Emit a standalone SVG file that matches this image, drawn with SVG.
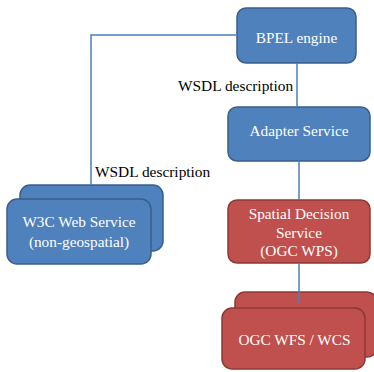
<svg xmlns="http://www.w3.org/2000/svg" width="374" height="372" viewBox="0 0 374 372">
<style>
.blue{fill:#4F81BD;stroke:#3A5F8B;stroke-width:1.5}
.red{fill:#C0504D;stroke:#8C3836;stroke-width:1.5}
text{font-family:'Liberation Serif','Times New Roman',serif}
.nt{font-size:15.3px;fill:#FFFFFF;text-anchor:middle}
.lbl{font-size:15.4px;fill:#000000}
.conn{fill:none;stroke:#4A7EBB;stroke-width:1.5}
</style>
<rect width="374" height="372" fill="#FFFFFF"/>
<g id="bpel">
<rect class="blue" x="237" y="8" width="119" height="55" rx="9"/>
<text class="nt" x="296.5" y="43">BPEL engine</text>
</g>
<g id="adapter">
<rect class="blue" x="228" y="107" width="142" height="54" rx="9"/>
<text class="nt" x="299" y="136">Adapter Service</text>
</g>
<g id="w3c">
<rect class="blue" x="20" y="185" width="143" height="66" rx="10"/>
<rect class="blue" x="7" y="199" width="144" height="65" rx="10"/>
<text class="nt" x="79" y="227">W3C Web Service</text>
<text class="nt" x="79" y="247">(non-geospatial)</text>
</g>
<g id="wps">
<rect class="red" x="228" y="200" width="142" height="63" rx="9"/>
<text class="nt" x="299" y="219">Spatial Decision</text>
<text class="nt" x="299" y="238">Service</text>
<text class="nt" x="299" y="256">(OGC WPS)</text>
</g>
<g id="wfs">
<rect class="red" x="235" y="292" width="142" height="65" rx="10"/>
<rect class="red" x="222" y="308" width="143" height="61" rx="10"/>
<text class="nt" x="294.5" y="345">OGC WFS / WCS</text>
</g>
<g id="connectors">
<polyline class="conn" points="237,35 91,35 91,185"/>
<line class="conn" x1="297" y1="63" x2="297" y2="107"/>
<line class="conn" x1="299" y1="161" x2="299" y2="200"/>
<line class="conn" x1="299" y1="263" x2="299" y2="303"/>
<text class="lbl" x="178" y="91">WSDL description</text>
<text class="lbl" x="95" y="177">WSDL description</text>
</g>
</svg>
